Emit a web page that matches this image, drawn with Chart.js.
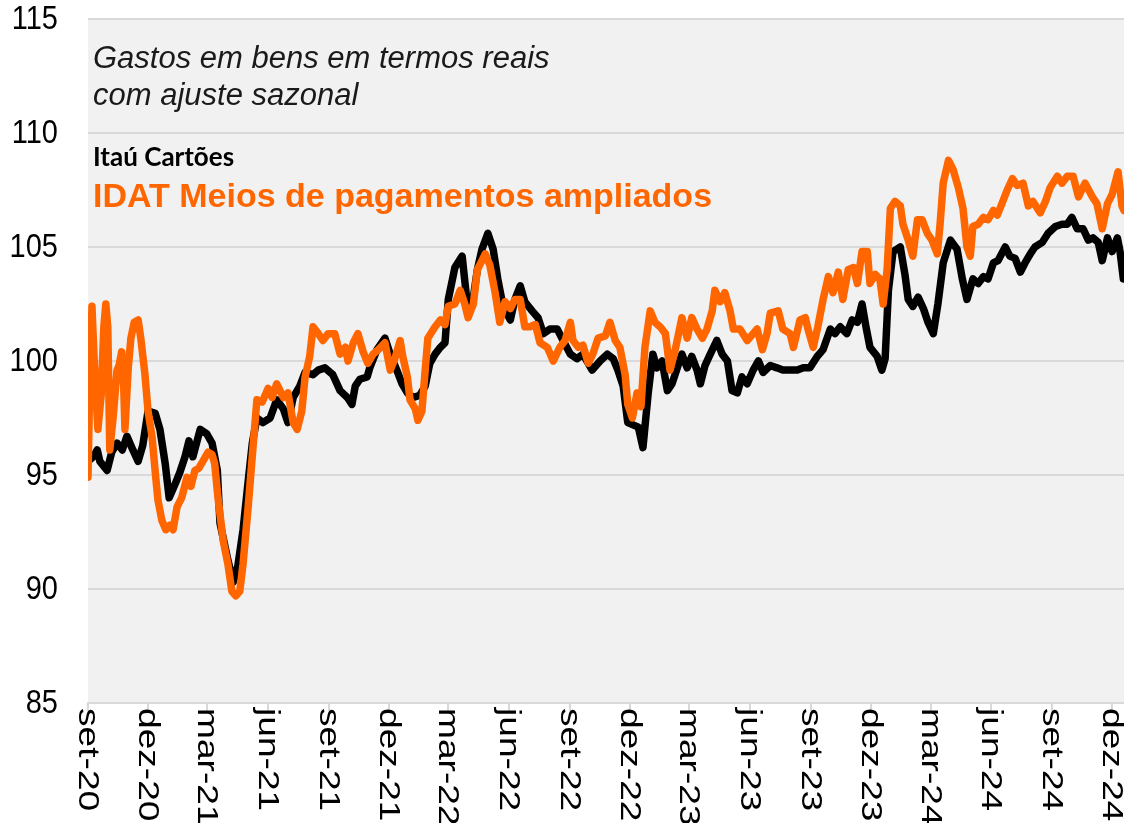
<!DOCTYPE html>
<html>
	<head>
		<title>Gastos em bens</title>
		<script src="https://cdn.jsdelivr.net/npm/chart.js@4.4.0/dist/chart.umd.min.js"></script>
		<style>
			body { margin: 0; background: #ffffff; }
			#wrap { width: 1124px; height: 823px; }
		</style>
	</head>
	<body>
		<div id="wrap"><canvas id="myChart" width="1124" height="823"></canvas></div>
		<script>
			// eixo x: dias desde 01/09/2020
			const tickLabels = ['set-20', 'dez-20', 'mar-21', 'jun-21', 'set-21', 'dez-21', 'mar-22', 'jun-22', 'set-22',
				'dez-22', 'mar-23', 'jun-23', 'set-23', 'dez-23', 'mar-24', 'jun-24', 'set-24', 'dez-24']
			const tickDays = [0, 91, 181, 273, 365, 456, 546, 638, 730, 821, 911, 1003, 1095, 1186, 1277, 1369, 1461, 1552]
			const lastDay = 1570

			// Itaú Cartões
			const itauDays = [0,8,14,18,29,36,44,52,59,68,76,83,91,102,109,117,123,132,139,147,153,159,170,180,188,196,200,211,220,227,235,243,249,256,265,276,286,296,303,311,321,329,341,349,359,371,382,393,400,405,412,423,427,438,450,458,468,476,484,493,503,511,518,526,534,541,546,556,567,574,582,590,597,606,614,621,629,640,647,655,662,673,682,690,700,711,720,731,741,750,764,776,787,796,803,811,818,826,834,841,849,856,862,870,878,885,893,900,908,915,923,928,935,943,953,961,969,976,984,991,999,1008,1016,1023,1034,1044,1053,1064,1075,1084,1094,1105,1114,1125,1132,1140,1150,1158,1166,1173,1179,1185,1196,1203,1208,1213,1220,1231,1238,1243,1250,1258,1266,1273,1281,1288,1296,1307,1317,1325,1332,1341,1349,1357,1364,1372,1379,1390,1397,1405,1413,1420,1428,1435,1446,1455,1466,1476,1484,1491,1499,1508,1516,1523,1531,1537,1545,1552,1560,1564,1569]
			const itau = [95.6,95.8,96.1,95.6,95.2,96.0,96.4,96.1,96.7,96.1,95.6,96.3,97.8,97.7,97.0,95.5,94.0,94.6,95.1,95.8,96.5,95.8,97.0,96.8,96.4,95.2,92.9,91.4,90.3,91.0,92.6,94.8,96.4,97.5,97.3,97.5,98.3,97.9,97.3,98.4,98.9,99.5,99.4,99.6,99.7,99.4,98.7,98.4,98.1,98.9,99.2,99.3,99.7,100.5,101.0,100.3,99.6,99.0,98.6,98.4,98.5,98.9,99.9,100.3,100.6,100.8,102.7,104.1,104.6,102.7,102.4,104.0,104.9,105.6,104.9,103.6,102.4,101.8,102.7,103.3,102.6,102.2,101.9,101.2,101.4,101.4,100.9,100.3,100.1,100.3,99.6,100.0,100.3,100.1,99.6,98.9,97.3,97.2,97.1,96.2,98.6,100.3,99.7,100.0,98.7,99.0,99.7,100.3,99.7,100.2,99.6,99.0,99.8,100.3,100.9,100.3,100.0,98.7,98.6,99.3,99.0,99.6,100.0,99.5,99.8,99.7,99.6,99.6,99.6,99.7,99.7,100.2,100.5,101.4,101.2,101.5,101.2,101.8,101.7,102.5,101.5,100.6,100.2,99.6,100.1,103.1,104.8,105.0,103.8,102.7,102.4,102.8,102.3,101.7,101.2,102.5,104.3,105.3,104.9,103.6,102.7,103.6,103.4,103.7,103.6,104.3,104.4,105.0,104.6,104.5,103.9,104.3,104.7,105.0,105.2,105.6,105.9,106.0,106.0,106.3,105.8,105.8,105.3,105.4,105.2,104.4,105.4,104.8,105.4,104.8,103.6]

			// IDAT Meios de pagamentos ampliados
			const idatDays = [0,2,6,8,11,15,20,24,27,30,33,38,44,47,51,54,56,61,65,70,76,80,86,91,97,102,106,112,118,124,129,135,142,150,156,162,168,174,182,188,192,197,205,212,218,224,230,235,243,250,256,264,273,279,286,296,303,311,317,324,329,336,341,349,356,364,374,382,390,394,402,409,417,424,432,440,450,458,465,473,477,484,488,496,500,506,511,515,526,534,541,546,556,564,571,576,584,590,597,602,609,617,624,632,640,647,655,662,670,678,685,696,705,715,723,731,735,743,750,758,765,773,784,791,799,806,814,818,825,832,838,844,852,859,867,875,882,890,900,908,915,923,931,938,946,950,958,965,973,978,988,999,1008,1014,1022,1029,1034,1046,1053,1064,1069,1079,1087,1091,1099,1106,1114,1122,1129,1137,1144,1152,1160,1166,1173,1181,1185,1193,1200,1205,1211,1216,1223,1231,1235,1243,1250,1257,1264,1272,1279,1287,1291,1296,1304,1311,1319,1326,1332,1337,1341,1349,1357,1364,1372,1378,1385,1393,1401,1408,1417,1425,1432,1443,1451,1458,1469,1476,1484,1493,1501,1511,1522,1529,1537,1545,1552,1561,1567,1570]
			const idat = [94.9,98.0,102.4,101.0,99.0,97.0,98.5,101.5,102.5,101.5,96.1,97.5,99.6,99.8,100.4,99.0,97.0,99.7,101.0,101.7,101.8,101.0,99.5,97.8,96.7,95.1,93.9,93.0,92.6,92.8,92.6,93.6,94.0,94.9,94.5,95.2,95.3,95.6,96.0,95.9,95.5,94.0,92.1,91.1,89.9,89.7,89.9,91.1,93.7,96.2,98.3,98.2,98.8,98.4,99.0,98.4,98.6,97.3,97.0,97.8,99.3,100.2,101.5,101.2,100.9,101.2,101.2,100.3,100.6,100.0,100.8,101.2,100.4,99.9,100.3,100.5,100.8,99.6,100.1,100.9,100.2,99.3,98.3,97.9,97.4,97.8,99.6,101.0,101.5,101.8,101.6,102.4,102.5,103.1,102.5,101.9,102.5,104.0,104.4,104.7,104.2,103.0,101.7,102.6,102.3,102.7,102.7,101.5,101.5,101.6,100.8,100.6,100.0,100.6,100.9,101.7,100.9,100.6,100.7,99.9,100.3,101.0,101.1,101.7,100.9,100.6,99.4,98.1,97.5,98.6,98.0,100.6,102.2,101.7,101.5,101.2,99.6,100.5,101.9,101.0,101.9,101.4,101.0,101.4,102.2,103.1,102.6,103.0,102.2,101.4,101.4,100.9,101.2,101.4,100.5,101.2,102.1,102.2,101.4,101.2,100.6,101.8,101.9,101.4,100.6,101.5,102.7,103.7,103.0,103.9,102.7,104.0,104.1,103.4,104.8,104.8,103.4,103.8,103.6,102.5,104.0,106.7,107.0,106.8,106.0,105.3,104.6,106.2,106.2,105.6,105.3,104.7,105.9,107.8,108.8,108.4,107.6,106.7,105.0,104.6,105.9,106.0,106.3,106.2,106.6,106.4,106.9,107.5,108.0,107.7,107.8,106.8,107.0,106.5,107.0,107.6,108.1,107.8,108.1,108.1,107.2,107.8,107.2,106.9,105.8,106.9,107.3,108.3,106.8,106.6]

			const yTicks = [85, 90, 95, 100, 105, 110, 115]

			const ORANGE = '#ff6600'
			const GRID = '#d9d9d9'

			// fundo cinza da área do gráfico
			const areaBg = {
				id: 'areaBg',
				beforeDraw (chart) {
					const a = chart.chartArea
					const ctx = chart.ctx
					ctx.save()
					ctx.fillStyle = '#f1f1f1'
					ctx.fillRect(a.left, a.top, a.right - a.left, a.bottom - a.top)
					ctx.restore()
				}
			}

			// rótulos dos eixos (esticados na vertical como no original) + textos
			const extras = {
				id: 'extras',
				afterDraw (chart) {
					const ctx = chart.ctx
					const xs = chart.scales.x
					const ys = chart.scales.y
					ctx.save()
					ctx.fillStyle = '#000000'

					// eixo y
					ctx.font = '29px "Liberation Sans", Arial, sans-serif'
					ctx.textAlign = 'right'
					ctx.textBaseline = 'middle'
					for (let i = 0; i < yTicks.length; i++) {
						const py = ys.getPixelForValue(yTicks[i])
						ctx.save()
						ctx.translate(58, py + 1)
						ctx.scale(1, 1.15)
						ctx.fillText(String(yTicks[i]), 0, 0)
						ctx.restore()
					}

					// eixo x, texto de cima para baixo
					ctx.font = '29px "Liberation Sans", Arial, sans-serif'
					ctx.textAlign = 'left'
					for (let i = 0; i < tickDays.length; i++) {
						const px = xs.getPixelForValue(tickDays[i])
						ctx.save()
						ctx.translate(px, xs.top + 5)
						ctx.rotate(Math.PI / 2)
						ctx.scale(1.28, 1)
						ctx.fillText(tickLabels[i], 0, 1)
						ctx.restore()
					}

					ctx.textBaseline = 'alphabetic'
					ctx.fillStyle = '#1a1a1a'
					ctx.font = 'italic 31px "Liberation Sans", Arial, sans-serif'
					ctx.fillText('Gastos em bens em termos reais', 93, 68)
					ctx.fillText('com ajuste sazonal', 93, 105)
					ctx.fillStyle = '#000000'
					ctx.font = 'bold 26px Lato, "Open Sans", sans-serif'
					ctx.fillText('Itaú Cartões', 93, 166)
					ctx.fillStyle = ORANGE
					ctx.font = 'bold 34px "Liberation Sans", Arial, sans-serif'
					ctx.fillText('IDAT Meios de pagamentos ampliados', 93, 207)
					ctx.restore()
				}
			}

			const ctx = document.getElementById('myChart').getContext('2d')
			const chart = new Chart(ctx, {
				type: 'line',
				data: {
					datasets: [{
						label: 'IDAT Meios de pagamentos ampliados',
						data: idatDays.map((d, i) => ({ x: d, y: idat[i] })),
						borderColor: ORANGE,
						borderWidth: 7.5,
						pointRadius: 0,
						tension: 0,
						borderJoinStyle: 'round',
						borderCapStyle: 'round'
					},
					{
						label: 'Itaú Cartões',
						data: itauDays.map((d, i) => ({ x: d, y: itau[i] })),
						borderColor: '#000000',
						borderWidth: 7.5,
						pointRadius: 0,
						tension: 0,
						borderJoinStyle: 'round',
						borderCapStyle: 'round'
					}]
				},
				options: {
					responsive: false,
					animation: false,
					events: [],
					layout: { padding: { top: 19, right: 0, left: 0, bottom: 0 } },
					plugins: {
						legend: { display: false },
						tooltip: { enabled: false },
						title: { display: false }
					},
					scales: {
						x: {
							type: 'linear',
							min: 0,
							max: lastDay,
							afterBuildTicks (scale) {
								scale.ticks = tickDays.map(v => ({ value: v }))
							},
							afterFit (scale) {
								scale.height = 120
							},
							ticks: {
								autoSkip: false,
								minRotation: 0,
								maxRotation: 0,
								color: 'rgba(0,0,0,0)',
								font: { size: 1 },
								callback: (v, i) => tickLabels[i]
							},
							grid: {
								drawOnChartArea: false,
								drawTicks: true,
								tickLength: 8,
								color: GRID,
								lineWidth: 2
							},
							border: { display: true, color: GRID, width: 2 }
						},
						y: {
							min: 85,
							max: 115,
							afterBuildTicks (scale) {
								scale.ticks = yTicks.map(v => ({ value: v }))
							},
							afterFit (scale) {
								scale.width = 88
							},
							ticks: {
								color: 'rgba(0,0,0,0)',
								padding: 0,
								font: { size: 1 }
							},
							grid: {
								color: GRID,
								lineWidth: 2,
								drawTicks: false
							},
							border: { display: false }
						}
					}
				},
				plugins: [areaBg, extras]
			})
		</script>
	</body>
</html>
